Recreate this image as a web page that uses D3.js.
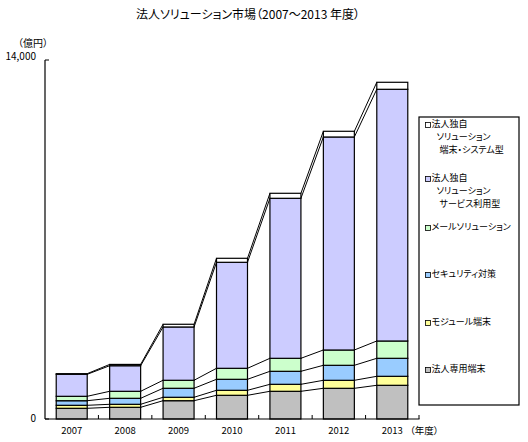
<!DOCTYPE html>
<html><head><meta charset="utf-8">
<script src="https://cdn.jsdelivr.net/npm/d3@7"></script>
<style>
html,body{margin:0;padding:0;background:#fff;}
text{font-family:"Noto Sans CJK JP","Noto Sans",sans-serif;fill:#000;font-feature-settings:"palt";}
</style></head>
<body>
<svg id="c" width="528" height="442"></svg>
<script>
const years = ["2007","2008","2009","2010","2011","2012","2013"];
const seriesNames = ["法人専用端末","モジュール端末","セキュリティ対策","メールソリューション","法人独自ソリューションサービス利用型","法人独自ソリューション端末・システム型"];
const seriesColors = ["#C0C0C0","#FFFF99","#99CCFF","#CCFFCC","#CCCCFF","#FFFFFF"];
const dedicated = [417, 456, 714, 924, 1080, 1197, 1314];
const module_ = [117, 117, 133, 195, 273, 312, 351];
const security = [179, 234, 351, 429, 507, 585, 702];
const mail = [172, 273, 312, 429, 507, 597, 675];
const serviceType = [858, 998, 2079, 4134, 6240, 8307, 9816];
const systemType = [25, 50, 105, 156, 195, 222, 273];
const yTicks = [0, 14000];
const legendLines = [
  ["法人独自","ソリューション","端末・システム型"],
  ["法人独自","ソリューション","サービス利用型"],
  ["メールソリューション"],
  ["セキュリティ対策"],
  ["モジュール端末"],
  ["法人専用端末"]
];
const legendColors = ["#FFFFFF","#CCCCFF","#CCFFCC","#99CCFF","#FFFF99","#C0C0C0"];

const allSeries = [dedicated, module_, security, mail, serviceType, systemType];
const rows = years.map((y,i)=>{const o={year:y}; allSeries.forEach((s,k)=>o["s"+k]=s[i]); return o;});
const keys = allSeries.map((_,k)=>"s"+k);
const stacked = d3.stack().keys(keys)(rows);

const svg = d3.select("#c");
const x = d3.scaleBand().domain(years).range([45,419]).paddingInner(0.42).paddingOuter(0.21);
const y = d3.scaleLinear().domain([0,14000]).range([419,60]);

// bars
stacked.forEach((layer,k)=>{
  svg.append("g").selectAll("rect").data(layer).join("rect")
    .attr("x", d=>x(d.data.year))
    .attr("y", d=>y(d[1]))
    .attr("width", x.bandwidth())
    .attr("height", d=>y(d[0])-y(d[1]))
    .attr("fill", seriesColors[k])
    .attr("stroke","#000").attr("stroke-width",1.2);
});
// connector lines
stacked.forEach((layer)=>{
  for(let i=0;i<layer.length-1;i++){
    svg.append("line")
      .attr("x1", x(years[i])+x.bandwidth()).attr("y1", y(layer[i][1]))
      .attr("x2", x(years[i+1])).attr("y2", y(layer[i+1][1]))
      .attr("stroke","#000").attr("stroke-width",1);
  }
});

// axes
svg.append("line").attr("x1",45).attr("x2",419.5).attr("y1",419).attr("y2",419).attr("stroke","#000").attr("stroke-width",1.2);
svg.append("line").attr("x1",45).attr("x2",45).attr("y1",60).attr("y2",419).attr("stroke","#000").attr("stroke-width",1.2);
const bounds = years.map(d=>x(d)-x.step()*x.paddingInner()/2).slice(1).concat([419]);
svg.append("g").selectAll("line").data(bounds).join("line")
  .attr("x1",d=>d).attr("x2",d=>d).attr("y1",419).attr("y2",415).attr("stroke","#000");
svg.append("g").selectAll("line").data(yTicks).join("line")
  .attr("x1",45).attr("x2",49).attr("y1",d=>y(d)).attr("y2",d=>y(d)).attr("stroke","#000");
svg.append("g").selectAll("text").data(yTicks).join("text")
  .attr("x",36).attr("y",d=>y(d)-(d>0?3:0)).attr("text-anchor","end").attr("dominant-baseline","middle")
  .style("font-size","10px").text(d=>d3.format(",")(d));
svg.append("g").selectAll("text").data(years).join("text")
  .attr("x",d=>x(d)+x.bandwidth()/2).attr("y",431).attr("text-anchor","middle").attr("dominant-baseline","middle")
  .style("font-size","9.5px").text(d=>d);
svg.append("text").attr("x",410).attr("y",431).attr("dominant-baseline","middle").style("font-size","9.5px").text("（年度）");
svg.append("text").attr("x",33).attr("y",44).attr("text-anchor","middle").attr("dominant-baseline","middle").style("font-size","10px").text("（億円）");

// title
svg.append("text").attr("x",248).attr("y",16).attr("text-anchor","middle").attr("dominant-baseline","middle")
  .style("font-size","12px").text("法人ソリューション市場（2007～2013 年度）");

// legend
svg.append("rect").attr("x",419).attr("y",117).attr("width",100).attr("height",288).attr("fill","#fff").attr("stroke","#000").attr("stroke-width",1.2);
const legY = [125,179,228,275,323,370];
const indents = [0,5,8];
legendLines.forEach((lines,i)=>{
  svg.append("rect").attr("x",425.5).attr("y",legY[i]-2.5).attr("width",5).attr("height",5)
    .attr("fill",legendColors[i]).attr("stroke","#000").attr("stroke-width",0.8);
  const t = svg.append("text").attr("y",legY[i]).attr("dominant-baseline","middle").style("font-size","9px");
  const off = lines.length > 1 ? -0.5 : 0;
  lines.forEach((s,j)=>{
    t.append("tspan").attr("x",431.5+indents[j]).attr("y",legY[i]+off+j*13.2).attr("dominant-baseline","middle").text(s);
  });
});
</script>
</body></html>
